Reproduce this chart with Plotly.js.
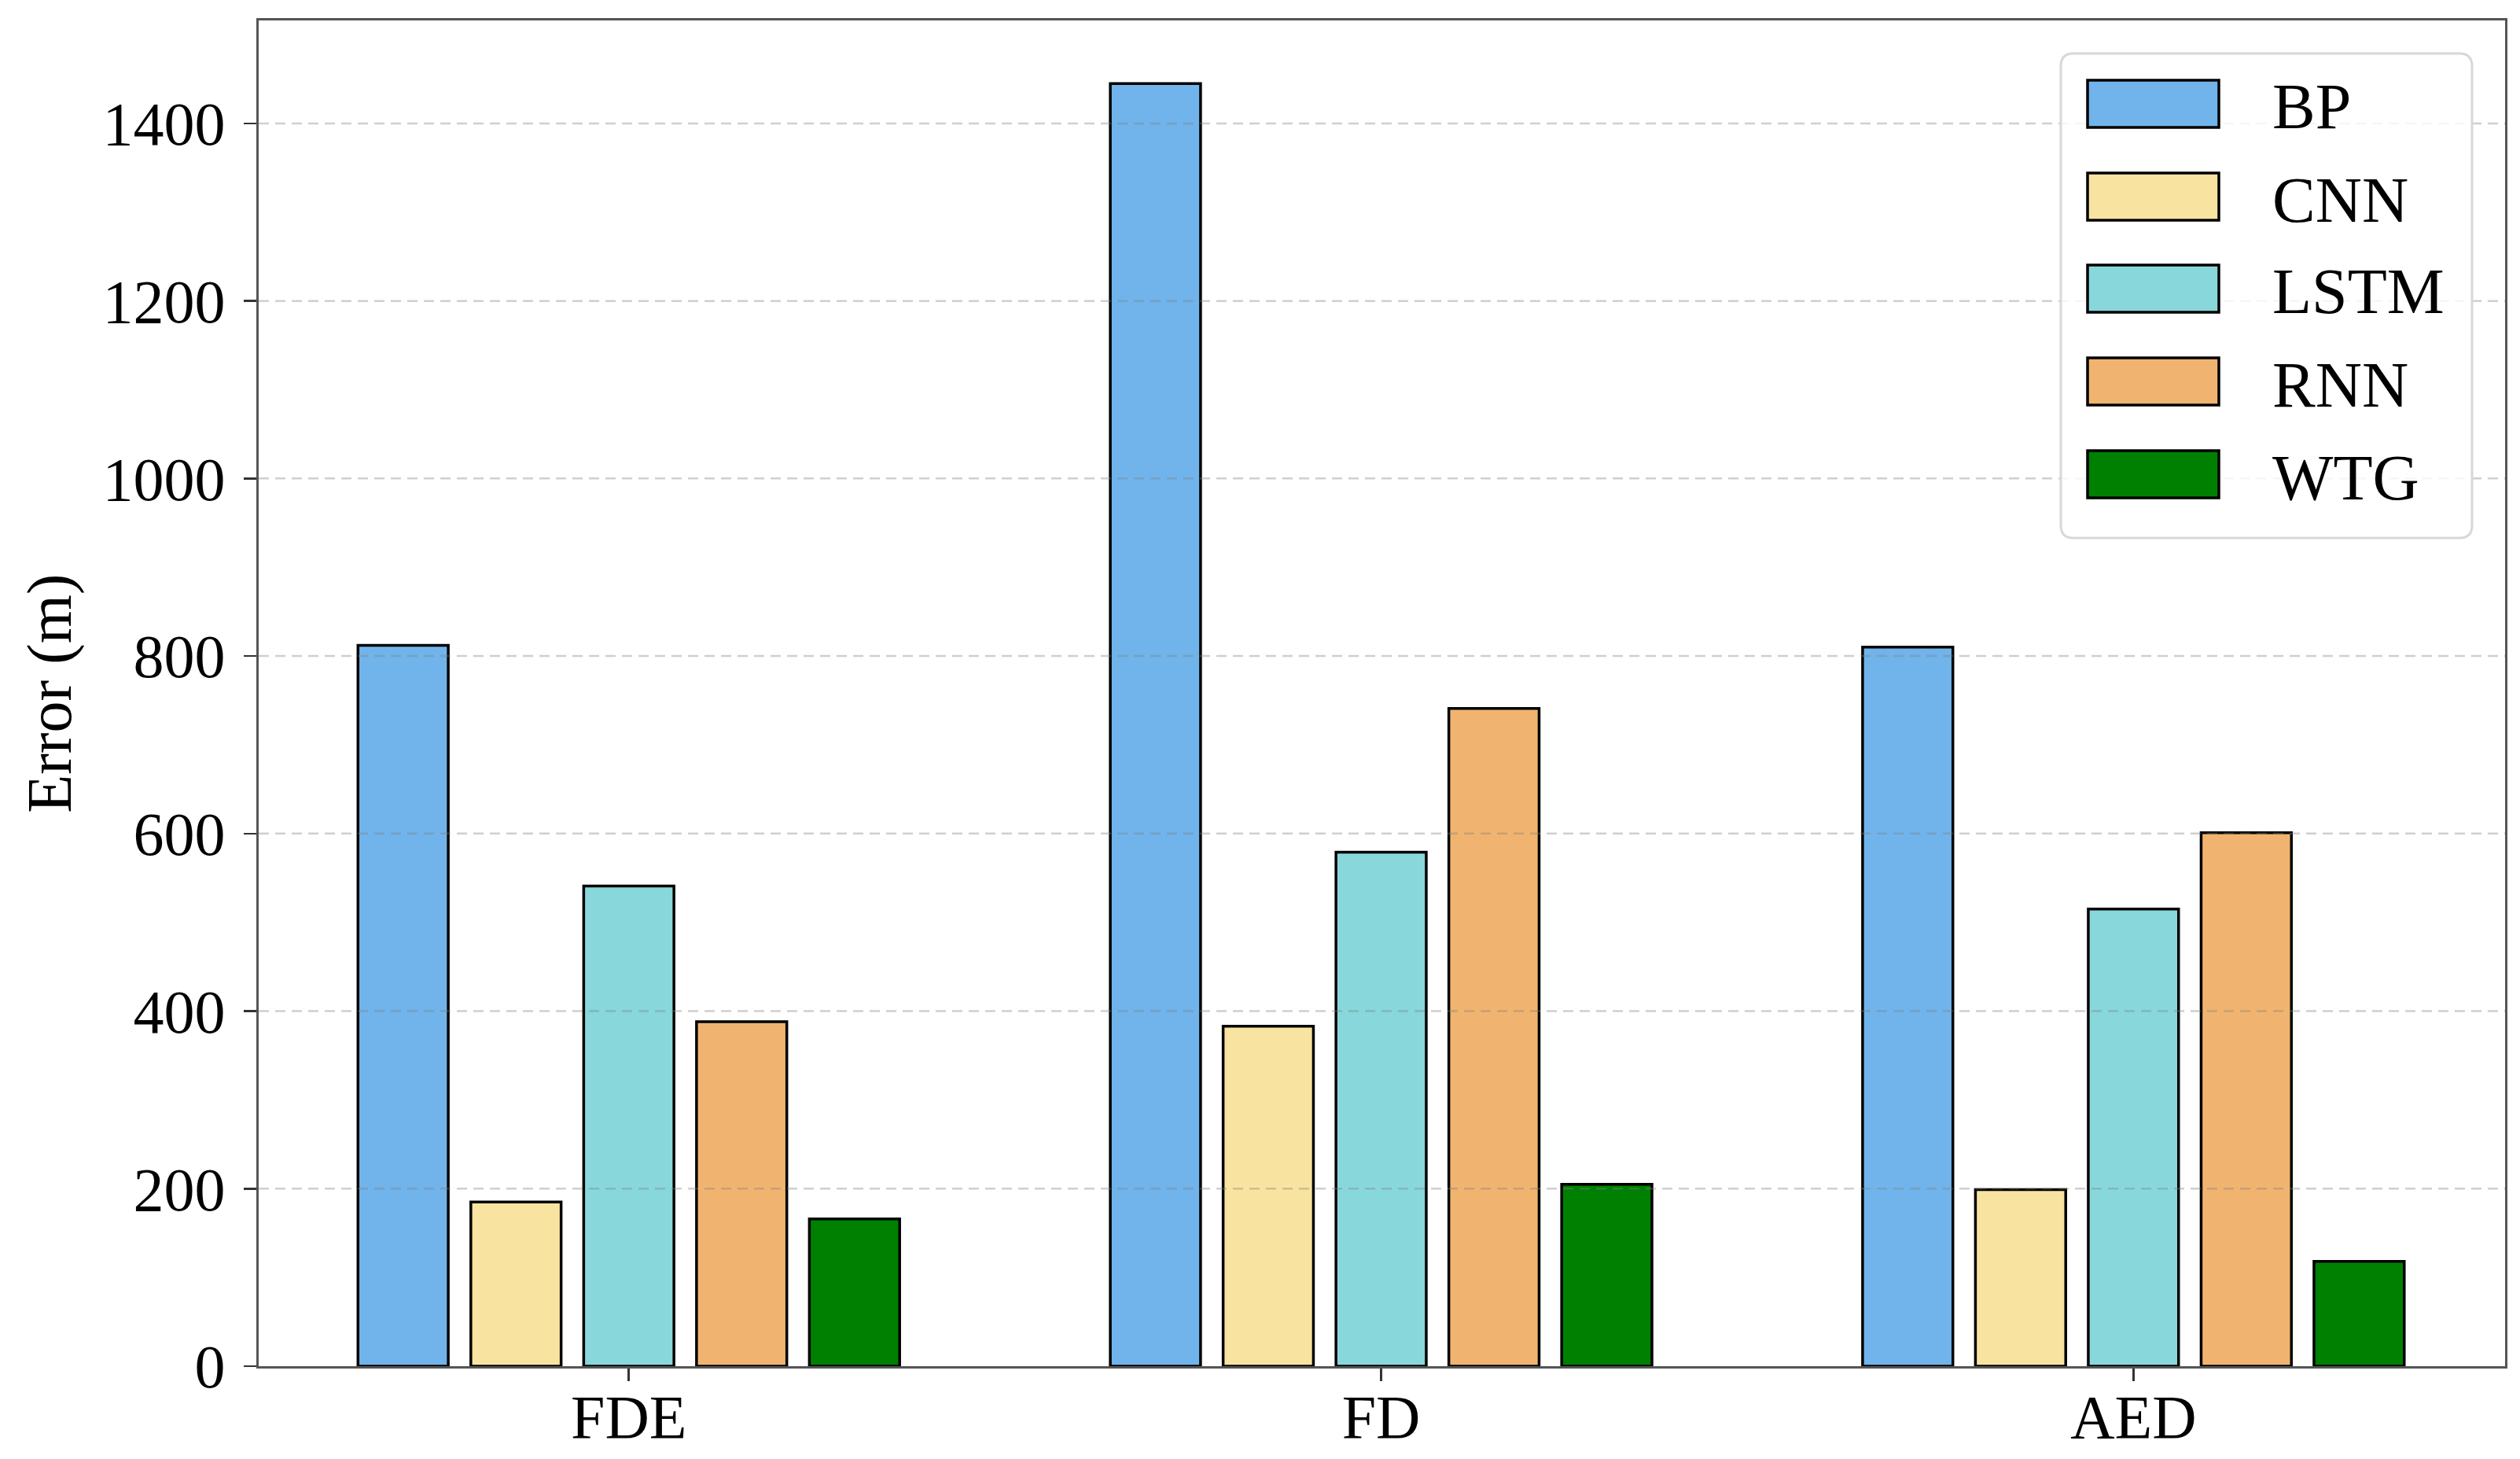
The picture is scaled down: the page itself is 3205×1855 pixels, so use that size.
<!DOCTYPE html>
<html>
<head>
<meta charset="utf-8">
<script src="https://cdn.plot.ly/plotly-3.0.1.min.js"></script>
<style>html,body{margin:0;padding:0;background:#fff;}#chart{width:3205px;height:1855px;}</style>
</head>
<body>
<div id="chart"></div>
<script>
// ---- data ----
const categories = ["FDE", "FD", "AED"];
const seriesNames = ["BP", "CNN", "LSTM", "RNN", "WTG"];
const BP   = [812, 1445, 810];
const CNN  = [185, 383, 199];
const LSTM = [541, 579, 515];
const RNN  = [388, 741, 601];
const WTG  = [166, 205, 118];
const seriesValues = [BP, CNN, LSTM, RNN, WTG];
const seriesColors = ["#70b4eb", "#f8e4a0", "#88d7da", "#f0b470", "#008000"];
const yTickVals = [0, 200, 400, 600, 800, 1000, 1200, 1400];

// ---- layout constants ----
const W = 3205, H = 1855;
const M = {l: 329, r: 19, t: 26, b: 118};
const PW = W - M.l - M.r, PH = H - M.t - M.b;
const FONT = "Times New Roman, Liberation Serif, serif";
const px2x = px => (px - M.l) / PW;
const py2y = py => (H - M.b - py) / PH;

const traces = seriesNames.map((name, i) => ({
  type: "bar",
  name: name,
  x: categories,
  y: seriesValues[i],
  marker: {color: seriesColors[i], line: {color: "#000", width: 3.5}},
  showlegend: false,
  hoverinfo: "x+y+name"
}));

const shapes = [];
// dashed gridlines drawn above bars (semi-transparent, as in reference)
yTickVals.filter(v => v > 0).forEach(v => {
  shapes.push({type: "line", xref: "paper", yref: "y", x0: 0, x1: 1, y0: v, y1: v,
    layer: "above", line: {color: "rgba(128,128,128,0.38)", width: 2.5, dash: "13px,8px"}});
});

// legend box (rounded)
const lx0 = px2x(2621), lx1 = px2x(3144), ly0 = py2y(684), ly1 = py2y(68);
const rx = 16 / PW, ry = 16 / PH;
shapes.push({type: "path", xref: "paper", yref: "paper", layer: "above",
  path: `M${lx0+rx},${ly0} L${lx1-rx},${ly0} Q${lx1},${ly0} ${lx1},${ly0+ry} L${lx1},${ly1-ry} Q${lx1},${ly1} ${lx1-rx},${ly1} L${lx0+rx},${ly1} Q${lx0},${ly1} ${lx0},${ly1-ry} L${lx0},${ly0+ry} Q${lx0},${ly0} ${lx0+rx},${ly0} Z`,
  fillcolor: "rgba(255,255,255,0.8)", line: {color: "#d8d8d8", width: 3}});

const annotations = [];
const rowCenters = [132, 250, 367, 485, 603];
seriesNames.forEach((name, i) => {
  const cy = rowCenters[i];
  shapes.push({type: "rect", xref: "paper", yref: "paper", layer: "above",
    x0: px2x(2655), x1: px2x(2822), y0: py2y(cy + 30), y1: py2y(cy - 30),
    fillcolor: seriesColors[i], line: {color: "#000", width: 3.5}});
  annotations.push({xref: "paper", yref: "paper", x: px2x(2888), y: py2y(cy + 4),
    xanchor: "left", yanchor: "middle", showarrow: false, text: name,
    font: {family: FONT, size: 82, color: "#000"}});
});

const layout = {
  width: W, height: H,
  margin: M,
  paper_bgcolor: "#fff", plot_bgcolor: "#fff",
  barmode: "group", bargap: 0.25, bargroupgap: 0.2,
  font: {family: FONT, size: 78, color: "#000"},
  xaxis: {
    type: "category", range: [-0.492, 2.494],
    showline: true, mirror: true, linecolor: "#555", linewidth: 3,
    ticks: "outside", ticklen: 16, tickwidth: 2.5, tickcolor: "#333",
    ticklabelstandoff: -22,
    tickfont: {family: FONT, size: 78, color: "#000"},
    showgrid: false, zeroline: false, fixedrange: true
  },
  yaxis: {
    range: [0, 1516], tickvals: yTickVals, ticktext: yTickVals.map(String),
    showline: true, mirror: true, linecolor: "#555", linewidth: 3,
    ticks: "outside", ticklen: 16, tickwidth: 2.5, tickcolor: "#333",
    ticklabelstandoff: 8,
    tickfont: {family: FONT, size: 78, color: "#000"},
    showgrid: false, zeroline: false, fixedrange: true,
    title: {text: "Error (m)", font: {family: FONT, size: 80, color: "#000"}, standoff: 14}
  },
  shapes: shapes,
  annotations: annotations,
  showlegend: false
};

Plotly.newPlot("chart", traces, layout, {displayModeBar: false, staticPlot: true});
</script>
</body>
</html>
